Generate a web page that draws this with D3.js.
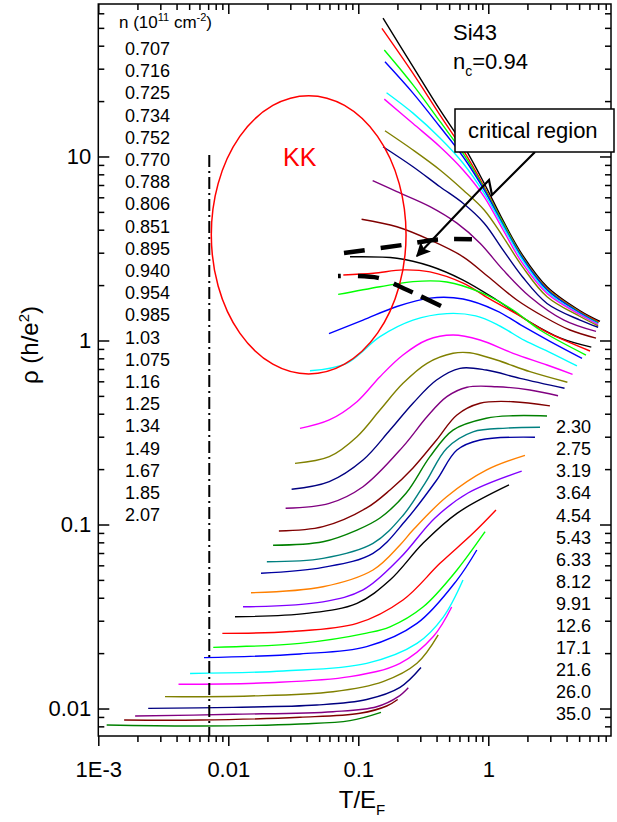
<!DOCTYPE html>
<html>
<head>
<meta charset="utf-8">
<script src="https://cdn.jsdelivr.net/npm/d3@7"></script>
<style>
body { margin: 0; background: #fff; }
text { font-family: Arial, "Liberation Sans", sans-serif; }
</style>
</head>
<body>
<div id="chart"></div>
<script>
// carrier densities n (10^11 cm^-2), one per curve, top curve first
var densities = ["0.707","0.716","0.725","0.734","0.752","0.770","0.788","0.806","0.851","0.895",
  "0.940","0.954","0.985","1.03","1.075","1.16","1.25","1.34","1.49","1.67","1.85","2.07",
  "2.30","2.75","3.19","3.64","4.54","5.43","6.33","8.12","9.91","12.6","17.1","21.6","26.0","35.0"];

// T/E_F values of each curve
var curveT = [
  [0.155,0.2635,0.425,0.64,0.93,1.30,1.83,2.83,5.08,7.23],
  [0.152,0.2635,0.425,0.64,0.93,1.30,1.83,2.83,5.08,7.1],
  [0.1585,0.2635,0.425,0.64,0.93,1.30,1.83,2.83,5.08,7.0],
  [0.1604,0.2635,0.425,0.64,0.93,1.30,1.83,2.83,5.08,7.0],
  [0.165,0.2635,0.425,0.64,0.93,1.30,1.83,2.83,5.08,7.0],
  [0.1585,0.2635,0.425,0.64,0.93,1.30,1.83,2.83,5.08,7.0],
  [0.1604,0.2635,0.425,0.64,0.93,1.30,1.83,2.83,5.08,7.0],
  [0.155,0.2635,0.425,0.64,0.93,1.30,1.83,2.83,5.08,7.0],
  [0.129,0.198,0.356,0.574,0.864,1.30,2.09,3.82,6.74],
  [0.106,0.198,0.356,0.64,1.0,1.66,2.66,4.25,6.74],
  [0.0863,0.198,0.356,0.64,1.16,2.09,3.6,6.2],
  [0.0767,0.131,0.2207,0.356,0.64,1.0,1.66,2.83,6.06],
  [0.070,0.1468,0.2635,0.48,0.864,1.55,2.5,5.64],
  [0.0595,0.1087,0.198,0.356,0.64,1.16,1.83,2.98,5.26],
  [0.0425,0.0814,0.1468,0.2635,0.48,0.8,1.2,1.9,3.0,4.81],
  [0.0356,0.0598,0.0977,0.1468,0.2207,0.3377,0.5354,0.864,1.55,2.83,4.45],
  [0.0326,0.0598,0.0977,0.1468,0.2207,0.3377,0.5354,0.72,1.16,2.09,4.06],
  [0.0307,0.0598,0.1087,0.1753,0.2635,0.40,0.6058,0.966,1.753,3.86],
  [0.0276,0.0598,0.1087,0.2207,0.3377,0.48,0.686,1.16,2.09,3.44],
  [0.0245,0.0535,0.116,0.1753,0.2635,0.40,0.574,0.864,1.55,2.98],
  [0.0221,0.0535,0.0977,0.1468,0.233,0.356,0.5354,0.966,1.55,2.83],
  [0.0198,0.0535,0.1298,0.2207,0.33,0.48,0.7628,1.38,2.5],
  [0.01784,0.0535,0.1298,0.233,0.40,0.574,0.864,2.287],
  [0.01495,0.0535,0.1298,0.2094,0.2635,0.4786,0.972,1.915],
  [0.01298,0.0535,0.1087,0.2094,0.389,0.698,1.807],
  [0.01126,0.0401,0.0977,0.1753,0.3145,0.5743,1.443],
  [0.0090,0.0298,0.0977,0.2207,0.425,0.7628,1.146],
  [0.00766,0.0356,0.116,0.1753,0.3145,0.5743,0.943],
  [0.0065,0.0356,0.116,0.2828,0.5743,0.816],
  [0.00508,0.0265,0.116,0.2828,0.4506,0.6389],
  [0.00414,0.0197,0.0863,0.2094,0.3776,0.523],
  [0.00326,0.01467,0.0639,0.155,0.2828,0.412],
  [0.00242,0.01093,0.0479,0.116,0.2094,0.3035],
  [0.00192,0.01094,0.0639,0.1385,0.203,0.2425],
  [0.00158,0.00606,0.0356,0.103,0.1654,0.201],
  [0.00116,0.00606,0.0356,0.0863,0.1495]
];

// resistivity rho (h/e^2) of each curve
var curveRho = [
  [56.4,30.8,17.9,11.55,7.15,4.48,2.92,1.96,1.45,1.27],
  [49.7,28.3,16.8,10.85,6.85,4.37,2.85,1.92,1.43,1.26],
  [37.9,24.5,15.5,10.4,6.72,4.34,2.83,1.90,1.42,1.25],
  [32.7,22.1,14.5,9.97,6.58,4.24,2.80,1.88,1.41,1.24],
  [22.2,17.2,12.6,9.19,6.3,4.16,2.74,1.84,1.39,1.23],
  [20.5,15.1,11.3,8.45,6.04,3.99,2.63,1.80,1.38,1.22],
  [13.8,10.85,8.45,6.58,5.12,3.66,2.52,1.73,1.35,1.20],
  [11.3,8.8,6.85,5.57,4.34,3.10,2.22,1.59,1.29,1.18],
  [7.39,6.44,5.34,4.34,3.38,2.42,1.73,1.29,1.12],
  [4.56,4.15,3.52,2.85,2.22,1.66,1.35,1.14,1.03],
  [2.85,2.80,2.54,2.13,1.66,1.26,1.03,0.92],
  [2.27,2.32,2.42,2.36,2.05,1.70,1.39,1.11,0.877],
  [1.78,1.96,2.09,2.08,1.83,1.465,1.14,0.834],
  [1.09,1.29,1.53,1.70,1.68,1.45,1.2,0.99,0.80],
  [0.685,0.752,1.049,1.29,1.40,1.36,1.21,1.0,0.86,0.727],
  [0.333,0.370,0.465,0.636,0.834,1.006,1.071,1.006,0.852,0.736,0.655],
  [0.215,0.2336,0.300,0.419,0.585,0.752,0.852,0.858,0.783,0.677,0.593],
  [0.1554,0.171,0.224,0.326,0.456,0.610,0.706,0.691,0.623,0.550],
  [0.1225,0.1303,0.1605,0.265,0.385,0.495,0.557,0.561,0.538,0.501],
  [0.0922,0.0973,0.123,0.154,0.203,0.288,0.394,0.456,0.465,0.441],
  [0.0771,0.0806,0.0933,0.1085,0.1478,0.2336,0.326,0.378,0.390,0.389],
  [0.0628,0.0655,0.079,0.112,0.17,0.26,0.319,0.334,0.3375],
  [0.0543,0.0585,0.0697,0.1058,0.174,0.254,0.288,0.298],
  [0.0426,0.0459,0.0566,0.0774,0.0933,0.1416,0.198,0.2377],
  [0.0357,0.038,0.0441,0.0657,0.1085,0.1483,0.195],
  [0.0315,0.0329,0.0373,0.0499,0.079,0.115,0.164],
  [0.0256,0.0262,0.029,0.0389,0.0615,0.0896,0.120],
  [0.0215,0.0226,0.0257,0.0278,0.0356,0.0566,0.0914],
  [0.0189,0.0198,0.0217,0.029,0.0499,0.0727],
  [0.0155,0.016,0.0176,0.0226,0.0314,0.0499],
  [0.01354,0.0138,0.0149,0.0176,0.0246,0.0356],
  [0.0116,0.0117,0.01234,0.014,0.0176,0.0251],
  [0.01002,0.01015,0.01045,0.0112,0.01303,0.0167],
  [0.0091,0.0093,0.00961,0.01022,0.0116,0.01298],
  [0.00866,0.00866,0.00896,0.00942,0.01032,0.0112],
  [0.00813,0.00803,0.00824,0.00859,0.00953]
];

// the two thick dashed guides of the critical region
var upperGuideT = [0.0776,0.2157,0.410,0.749];
var upperGuideRho = [2.99,3.30,3.54,3.55];
var lowerGuideT = [0.0698,0.1418,0.2287,0.448];
var lowerGuideRho = [2.24,2.19,1.905,1.52];

// arrow from the "critical region" label
var arrowT = [2.287,1.068,1.0125,0.2828];
var arrowRho = [10.58,6.18,7.45,2.88];

// KK ellipse extent, and the dash-dot line position
var kkT = [0.0074,0.233];
var kkRho = [0.658,21.4];
var dashDotT = 0.00714;
var dashDotTopRho = 10.2;

var xTickValues = [0.001,0.01,0.1,1];
var xTickLabels = ["1E-3","0.01","0.1","1"];
var yTickValues = [0.01,0.1,1,10];
var yTickLabels = ["0.01","0.1","1","10"];

// Origin-like line colours
var palette = ["#000000","#FF0000","#00FF00","#0000FF","#00FFFF","#FF00FF","#808000","#000080","#800080","#800000",
  "#000000","#FF0000","#00FF00","#0000FF","#00FFFF","#FF00FF","#808000","#000080","#800080","#800000",
  "#008000","#008080","#0000A0","#FF8000","#8000FF",
  "#000000","#FF0000","#00FF00","#0000FF","#00FFFF","#FF00FF","#808000","#000080","#800080","#800000","#008000"];

var width = 617, height = 822;
var plot = {l: 98.3, r: 611, t: 4, b: 736};

var svg = d3.select("#chart").append("svg")
  .attr("width", width)
  .attr("height", height);

var x = d3.scaleLog().domain([0.001, 8.79]).range([plot.l, plot.r]);
var y = d3.scaleLog().domain([0.00709, 67.4]).range([plot.b, plot.t]);

function minorTicks(scale) {
  var d = scale.domain(), out = [];
  for (var e = Math.floor(Math.log10(d[0])); e <= Math.ceil(Math.log10(d[1])); e++) {
    for (var k = 2; k <= 9; k++) {
      var v = k * Math.pow(10, e);
      if (v >= d[0] && v <= d[1]) out.push(v);
    }
  }
  return out;
}
var xMinor = minorTicks(x), yMinor = minorTicks(y);

function styleAxis(g) {
  g.select(".domain").remove();
  g.selectAll("line").attr("stroke", "#000").attr("stroke-width", 1.5);
  g.selectAll("text").attr("font-size", 22).attr("fill", "#000")
    .attr("font-family", "Arial, 'Liberation Sans', sans-serif");
}

// bottom axis, ticks outward
svg.append("g").attr("transform", "translate(0," + plot.b + ")")
  .call(d3.axisBottom(x).tickValues(xTickValues).tickSize(10).tickPadding(15)
    .tickFormat(function(d, i) { return xTickLabels[i]; }))
  .call(styleAxis);
svg.append("g").attr("transform", "translate(0," + plot.b + ")")
  .call(d3.axisBottom(x).tickValues(xMinor).tickSize(6).tickFormat(""))
  .call(styleAxis);
// top axis, ticks inward
svg.append("g").attr("transform", "translate(0," + plot.t + ")")
  .call(d3.axisBottom(x).tickValues(xTickValues).tickSize(10).tickFormat(""))
  .call(styleAxis);
svg.append("g").attr("transform", "translate(0," + plot.t + ")")
  .call(d3.axisBottom(x).tickValues(xMinor).tickSize(6).tickFormat(""))
  .call(styleAxis);
// left axis, ticks inward
svg.append("g").attr("transform", "translate(" + plot.l + ",0)")
  .call(d3.axisLeft(y).tickValues(yTickValues).tickSizeInner(-11).tickSizeOuter(0).tickPadding(7)
    .tickFormat(function(d, i) { return yTickLabels[i]; }))
  .call(styleAxis);
svg.append("g").attr("transform", "translate(" + plot.l + ",0)")
  .call(d3.axisRight(y).tickValues(yMinor).tickSize(6).tickFormat(""))
  .call(styleAxis);
// right axis, ticks inward
svg.append("g").attr("transform", "translate(" + plot.r + ",0)")
  .call(d3.axisLeft(y).tickValues(yTickValues).tickSize(11).tickFormat(""))
  .call(styleAxis);
svg.append("g").attr("transform", "translate(" + plot.r + ",0)")
  .call(d3.axisLeft(y).tickValues(yMinor).tickSize(6).tickFormat(""))
  .call(styleAxis);

// frame
svg.append("rect")
  .attr("x", plot.l).attr("y", plot.t)
  .attr("width", plot.r - plot.l).attr("height", plot.b - plot.t)
  .attr("fill", "none").attr("stroke", "#000").attr("stroke-width", 1.5);

var line = d3.line()
  .x(function(d) { return x(d[0]); })
  .y(function(d) { return y(d[1]); })
  .curve(d3.curveCatmullRom.alpha(0.5));

// curves
svg.append("g").selectAll("path")
  .data(curveT.map(function(ts, i) {
    return ts.map(function(t, j) { return [t, curveRho[i][j]]; });
  }))
  .enter().append("path")
  .attr("d", line)
  .attr("fill", "none")
  .attr("stroke", function(d, i) { return palette[i]; })
  .attr("stroke-width", 1.4);

// dash-dot vertical line
svg.append("line")
  .attr("x1", x(dashDotT)).attr("x2", x(dashDotT))
  .attr("y1", y(dashDotTopRho)).attr("y2", plot.b)
  .attr("stroke", "#000").attr("stroke-width", 2)
  .attr("stroke-dasharray", "12,4,2,4");

// KK ellipse
svg.append("ellipse")
  .attr("cx", (x(kkT[0]) + x(kkT[1])) / 2)
  .attr("cy", (y(kkRho[0]) + y(kkRho[1])) / 2)
  .attr("rx", (x(kkT[1]) - x(kkT[0])) / 2)
  .attr("ry", (y(kkRho[0]) - y(kkRho[1])) / 2)
  .attr("fill", "none").attr("stroke", "#FF0000").attr("stroke-width", 1.5);
svg.append("text").attr("x", 283).attr("y", 166)
  .attr("font-size", 25).attr("fill", "#FF0000").text("KK");

// critical region guides
svg.append("path")
  .attr("d", line(upperGuideT.map(function(t, i) { return [t, upperGuideRho[i]]; })))
  .attr("fill", "none").attr("stroke", "#000").attr("stroke-width", 4.5)
  .attr("stroke-dasharray", "21,16");
svg.append("path")
  .attr("d", line(lowerGuideT.map(function(t, i) { return [t, lowerGuideRho[i]]; })))
  .attr("fill", "none").attr("stroke", "#000").attr("stroke-width", 4.5)
  .attr("stroke-dasharray", "3,17,21,16,21,9,22");

// arrow
svg.append("defs").append("marker")
  .attr("id", "head").attr("viewBox", "0 0 10 10")
  .attr("refX", 9).attr("refY", 5)
  .attr("markerWidth", 6.5).attr("markerHeight", 6.5)
  .attr("orient", "auto")
  .append("path").attr("d", "M0,0 L10,5 L0,10 L2,5 Z").attr("fill", "#000");
svg.append("path")
  .attr("d", d3.line()(arrowT.map(function(t, i) { return [x(t), y(arrowRho[i])]; })))
  .attr("fill", "none").attr("stroke", "#000").attr("stroke-width", 2.2)
  .attr("marker-end", "url(#head)");

// label box
svg.append("rect").attr("x", 455).attr("y", 109).attr("width", 159).attr("height", 43)
  .attr("fill", "#fff").attr("stroke", "#000").attr("stroke-width", 1.5);
svg.append("text").attr("x", 468).attr("y", 138).attr("font-size", 22).text("critical region");

// sample labels
svg.append("text").attr("x", 453).attr("y", 40).attr("font-size", 22).text("Si43");
var nc = svg.append("text").attr("x", 453).attr("y", 69).attr("font-size", 22);
nc.append("tspan").text("n");
nc.append("tspan").attr("font-size", 14).attr("dy", 7).text("c");
nc.append("tspan").attr("dy", -7).text("=0.94");

// density lists
var head = svg.append("text").attr("x", 119).attr("y", 28).attr("font-size", 17);
head.append("tspan").text("n (10");
head.append("tspan").attr("font-size", 11).attr("dy", -7).text("11");
head.append("tspan").attr("dy", 7).text(" cm");
head.append("tspan").attr("font-size", 11).attr("dy", -7).text("-2");
head.append("tspan").attr("dy", 7).text(")");

svg.append("g").selectAll("text")
  .data(densities.slice(0, 22))
  .enter().append("text")
  .attr("x", 125)
  .attr("y", function(d, i) { return 55 + i * 22.2; })
  .attr("font-size", 18)
  .text(function(d) { return d; });

svg.append("g").selectAll("text")
  .data(densities.slice(22))
  .enter().append("text")
  .attr("x", 556)
  .attr("y", function(d, i) { return 433.3 + i * 22.05; })
  .attr("font-size", 18)
  .text(function(d) { return d; });

// axis titles
var xt = svg.append("text").attr("x", 362).attr("y", 808).attr("text-anchor", "middle").attr("font-size", 24);
xt.append("tspan").text("T/E");
xt.append("tspan").attr("font-size", 15).attr("dy", 7).text("F");

var yt = svg.append("text").attr("transform", "translate(38,345) rotate(-90)")
  .attr("text-anchor", "middle").attr("font-size", 24);
yt.append("tspan").text("\u03C1  (h/e");
yt.append("tspan").attr("font-size", 15).attr("dy", -9).text("2");
yt.append("tspan").attr("dy", 9).text(")");
</script>
</body>
</html>
